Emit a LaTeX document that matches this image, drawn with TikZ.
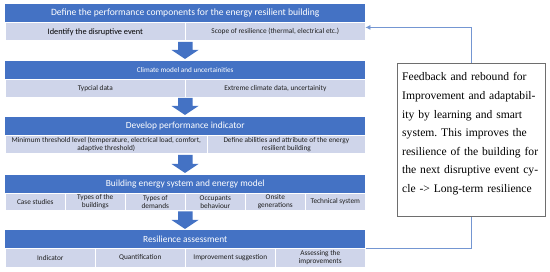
\documentclass[tikz,border=0pt]{standalone}
\usepackage{fontspec}
\usetikzlibrary{arrows.meta,calc}
\setmainfont{Carlito}
\newfontfamily\fbfont{Liberation Serif}
\definecolor{hdrblue}{HTML}{4472C4}
\definecolor{subfill}{HTML}{CFD5EA}
\definecolor{fbline}{HTML}{7496D2}
\definecolor{boxgray}{HTML}{6E6E6E}
\definecolor{celltext}{HTML}{1E1E1E}
\tikzset{
  hdr/.style={fill=hdrblue, text=white, anchor=north west, minimum width=360pt, inner sep=0pt, font=\fontsize{9.4}{10}\selectfont},
  cell/.style={fill=subfill, draw=white, line width=0.6pt, anchor=north west, inner sep=0pt, text=celltext, align=center, font=\fontsize{7.3}{8}\selectfont},
  fbarrow/.style={draw=fbline, line width=0.8pt},
}
\newcommand\flowarrow[3]{%
  \fill[hdrblue] (178,#2) -- (192.5,#2) -- (192.5,#3-9) -- (198.5,#3-9) -- (185,#3) -- (171.5,#3-9) -- (178,#3-9) -- cycle;}
\begin{document}
\begin{tikzpicture}[x=1pt,y=-1pt]
\frenchspacing
\useasboundingbox (0,0) rectangle (550,272);
% Block 1
\node[hdr, minimum height=18.5pt, font=\fontsize{9.6}{10}\selectfont] (h1) at (5,4) {Define the performance components for the energy resilient building};
\node[cell, minimum width=180pt, minimum height=18pt, font=\fontsize{8.3}{9}\selectfont, text=black] (c11) at (5,22.5) {Identify the disruptive event};
\node[cell, minimum width=180pt, minimum height=18pt] (c12) at (185,22.5) {Scope of resilience (thermal, electrical etc.)};
\flowarrow{a1}{42}{59}
% Block 2
\node[hdr, minimum height=18pt, font=\fontsize{7.2}{8}\selectfont] (h2) at (5,61) {Climate model and uncertainities};
\node[cell, minimum width=180pt, minimum height=18pt] (c21) at (5,79) {Typcial data};
\node[cell, minimum width=180pt, minimum height=18pt] (c22) at (185,79) {Extreme climate data, uncertainity};
\flowarrow{a2}{98}{115}
% Block 3
\node[hdr, minimum height=18pt] (h3) at (5,117) {Develop performance indicator};
\node[cell, minimum width=202pt, minimum height=18pt] (c31) at (5,135) {Minimum threshold level (temperature, electrical load, comfort,\\adaptive threshold)};
\node[cell, minimum width=158pt, minimum height=18pt] (c32) at (207,135) {Define abilities and attribute of the energy\\resilient building};
\flowarrow{a3}{155}{173}
% Block 4
\node[hdr, minimum height=18.5pt] (h4) at (5,174.5) {Building energy system and energy model};
\node[cell, minimum width=60pt, minimum height=17.5pt] (c41) at (5,193) {Case studies};
\node[cell, minimum width=60pt, minimum height=17.5pt] (c42) at (65,193) {Types of the\\buildings};
\node[cell, minimum width=60pt, minimum height=17.5pt] (c43) at (125,193) {Types of\\demands};
\node[cell, minimum width=60pt, minimum height=17.5pt] (c44) at (185,193) {Occupants\\behaviour};
\node[cell, minimum width=60pt, minimum height=17.5pt] (c45) at (245,193) {Onsite\\generations};
\node[cell, minimum width=60pt, minimum height=17.5pt] (c46) at (305,193) {Technical system};
\flowarrow{a4}{211.5}{229}
% Block 5
\node[hdr, minimum height=18pt] (h5) at (5,230) {Resilience assessment};
\node[cell, minimum width=90pt, minimum height=19pt] (c51) at (5,248) {Indicator};
\node[cell, minimum width=90pt, minimum height=19pt] (c52) at (95,248) {Quantification};
\node[cell, minimum width=90pt, minimum height=19pt] (c53) at (185,248) {Improvement suggestion};
\node[cell, minimum width=90pt, minimum height=19pt] (c54) at (275,248) {Assessing the\\improvements};
% Feedback box
\node[draw=boxgray, line width=0.9pt, fill=white, minimum width=148pt, minimum height=153pt, anchor=north west, inner sep=0pt] (fb) at (397,63) {};
\node[anchor=north west, inner sep=0pt, text width=137pt, align=left, font=\fbfont\fontsize{11.6}{18.6}\selectfont] (fbt) at (402,72.5) {%
Feedback and rebound for\\
\makebox[\linewidth][s]{Improvement and adaptabil-}\\
\makebox[\linewidth][s]{ity by learning and smart}\\
\makebox[\linewidth][s]{system. This improves the}\\
\makebox[\linewidth][s]{resilience of the building for}\\
\makebox[\linewidth][s]{the next disruptive event cy-}\\
cle -> Long-term resilience};
% Feedback connectors
\coordinate (fbend) at ($(h1.south east)+(0,4.5)$);
\coordinate (fbtop) at (fb.north |- fbend);
\coordinate (fbbot) at (fb.south |- c54.north east);
\draw[fbarrow, -{Latex[length=5pt,width=5pt]}] (fb.north) -- (fbtop) -- (fbend);
\draw[fbarrow] (c54.north east) -- (fbbot) -- (fb.south);
\end{tikzpicture}
\end{document}
